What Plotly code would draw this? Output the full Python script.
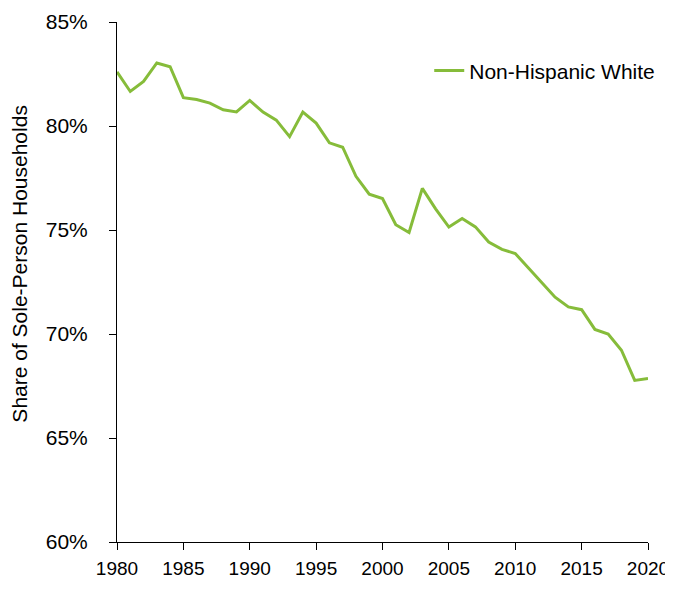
import plotly.graph_objects as go

years = list(range(1980, 2021))
share_white = [
    82.6, 81.66, 82.14, 83.03, 82.85, 81.36, 81.27, 81.1, 80.78, 80.68,
    81.23, 80.67, 80.28, 79.49, 80.67, 80.14, 79.19, 78.98, 77.58, 76.72,
    76.51, 75.25, 74.88, 77.0, 76.02, 75.14, 75.55, 75.15, 74.42, 74.07,
    73.87, 73.18, 72.45, 71.77, 71.3, 71.17, 70.22, 70.0, 69.22, 67.77,
    67.86,
]
y_ticks = [60, 65, 70, 75, 80, 85]
x_ticks = [1980, 1985, 1990, 1995, 2000, 2005, 2010, 2015, 2020]

fig = go.Figure()
fig.add_trace(go.Scatter(
    x=years,
    y=share_white,
    mode="lines",
    name="Non-Hispanic White",
    line=dict(color="#86BC3A", width=3),
))

# the page has an 8px body margin, so the figure is a bit smaller than the window
fig.update_layout(
    width=665,
    height=570,
    template="plotly_white",
    font=dict(family="Liberation Sans, Arial, sans-serif", size=21, color="black"),
    margin=dict(l=109, r=25, t=14, b=36),
    showlegend=True,
    legend=dict(
        x=0.588, y=0.906, xanchor="left", yanchor="middle",
        bgcolor="rgba(0,0,0,0)", font=dict(size=21),
    ),
    plot_bgcolor="white",
    paper_bgcolor="white",
)

# y axis title as an annotation so it sits where the original has it
fig.add_annotation(
    text="Share of Sole-Person Households",
    xref="paper", yref="paper",
    x=-0.183, y=0.535,
    xanchor="center", yanchor="middle",
    textangle=-90,
    showarrow=False,
    font=dict(size=21),
)

fig.update_xaxes(
    range=[1980, 2020],
    tickvals=x_ticks,
    tickfont=dict(size=19),
    showgrid=False,
    zeroline=False,
    showline=True,
    linecolor="black",
    linewidth=1,
    ticks="outside",
    ticklen=7,
    tickcolor="black",
    ticklabelstandoff=2,
    automargin=False,
)

fig.update_yaxes(
    range=[60, 85],
    tickvals=y_ticks,
    ticktext=[f"{v}%" for v in y_ticks],
    showgrid=False,
    zeroline=False,
    showline=True,
    linecolor="black",
    linewidth=1,
    ticks="outside",
    ticklen=7,
    tickcolor="black",
    ticklabelstandoff=17,
    automargin=False,
)

fig.write_html("out.html")
